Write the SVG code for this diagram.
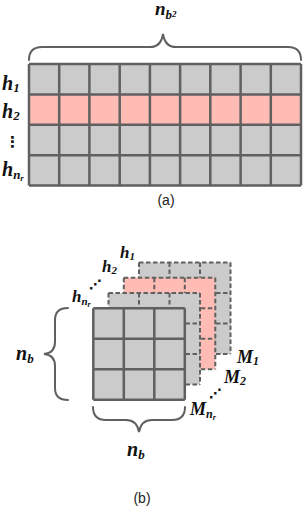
<svg xmlns="http://www.w3.org/2000/svg" xmlns:xlink="http://www.w3.org/1999/xlink" width="304" height="512" viewBox="0 0 304 512">
<style>
.m{font-family:"Liberation Serif","DejaVu Serif",serif;font-style:italic;font-weight:bold;fill:#111}
.cap{font-family:"Liberation Sans",Arial,sans-serif;font-size:14px;fill:#222}
.gray{fill:#cbcbcb}
.pink{fill:#ffbcb4}
.solid{fill:none;stroke:#606060;stroke-width:2.5}
.dash{fill:none;stroke:#606060;stroke-width:2;stroke-dasharray:4.5 2.5}
.brace{fill:none;stroke:#606060;stroke-width:2;stroke-linecap:round}
.dot{font-family:"DejaVu Sans",sans-serif;font-weight:bold;fill:#111}
</style>
<defs>
<path id="grid3" d="M0,0H91.5M0,30.5H91.5M0,61H91.5M0,91.5H91.5M0,0V91.5M30.5,0V91.5M61,0V91.5M91.5,0V91.5"/>
</defs>

<g id="matrix-a">
<rect class="gray" x="29" y="64" width="272" height="121.6"/>
<rect class="pink" x="29" y="94.4" width="272" height="30.4"/>
<path class="solid" d="M29,64H301M29,94.4H301M29,124.8H301M29,155.2H301M29,185.6H301M29,64V185.6M59.2,64V185.6M89.4,64V185.6M119.7,64V185.6M149.9,64V185.6M180.1,64V185.6M210.3,64V185.6M240.6,64V185.6M270.8,64V185.6M301,64V185.6"/>
</g>

<g id="labels-a">
<text class="m" x="2" y="90" font-size="20">h<tspan font-size="13" dy="2">1</tspan></text>
<text class="m" x="2" y="118" font-size="20">h<tspan font-size="13" dy="2">2</tspan></text>
<text class="dot" x="5" y="147" font-size="15">⋮</text>
<text class="m" x="2" y="176" font-size="20">h<tspan font-size="13" dy="3">n</tspan><tspan font-size="9" dy="2">r</tspan></text>
<text class="m" x="155" y="15" font-size="19">n<tspan font-size="13" dy="4">b</tspan><tspan font-size="9" dy="-2">2</tspan></text>
<text class="cap" x="166" y="205" text-anchor="middle">(a)</text>
</g>

<g id="brace-a">
<path class="brace" d="M29,60Q29,47 42,47L150,47Q161,47 163,34Q165,47 176,47L288,47Q301,47 301,60"/>
</g>

<g id="layer-h1" transform="translate(139,262.5)">
<rect class="gray" width="91.5" height="91.5"/>
<use xlink:href="#grid3" class="dash"/>
</g>
<g id="layer-h2" transform="translate(123.8,277.7)">
<rect class="pink" width="91.5" height="91.5"/>
<use xlink:href="#grid3" class="dash"/>
</g>
<g id="layer-hnr" transform="translate(108.5,293)">
<rect class="gray" width="91.5" height="91.5"/>
<use xlink:href="#grid3" class="dash"/>
</g>
<g id="layer-front" transform="translate(93.3,308.3)">
<rect class="gray" width="91.5" height="91.5"/>
<use xlink:href="#grid3" class="solid"/>
</g>

<g id="braces-b">
<path class="brace" d="M68,308Q55,308 55,320L55,342Q55,353 44,354Q55,355 55,366L55,388Q55,400 68,400"/>
<path class="brace" d="M93,407Q93,420 106,420L126,420Q137,420 139,432Q141,420 152,420L172,420Q185,420 185,407"/>
</g>

<g id="labels-b">
<text class="m" x="120" y="258" font-size="17">h<tspan font-size="11" dy="2">1</tspan></text>
<text class="m" x="102" y="272" font-size="17">h<tspan font-size="11" dy="2">2</tspan></text>
<text class="dot" x="89" y="289" font-size="13">⋰</text>
<text class="m" x="72" y="302" font-size="17">h<tspan font-size="11" dy="3">n</tspan><tspan font-size="8" dy="2">r</tspan></text>
<text class="m" x="16" y="360" font-size="20">n<tspan font-size="13" dy="3">b</tspan></text>
<text class="m" x="127" y="456" font-size="20">n<tspan font-size="13" dy="3">b</tspan></text>
<text class="m" x="237" y="363" font-size="18">M<tspan font-size="12" dy="2">1</tspan></text>
<text class="m" x="224" y="383" font-size="18">M<tspan font-size="12" dy="2">2</tspan></text>
<text class="dot" x="209" y="398" font-size="13">⋰</text>
<text class="m" x="190" y="415" font-size="18">M<tspan font-size="12" dy="3">n</tspan><tspan font-size="8" dy="2">r</tspan></text>
<text class="cap" x="142" y="503" text-anchor="middle">(b)</text>
</g>
</svg>
